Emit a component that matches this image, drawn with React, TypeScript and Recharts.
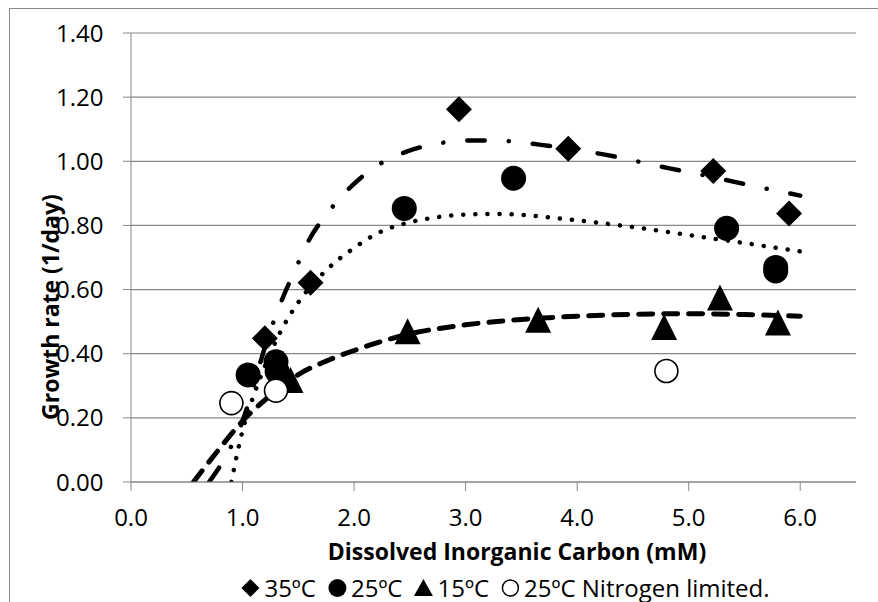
import { ComposedChart, Scatter, Line, XAxis, YAxis, CartesianGrid } from 'recharts';

// measured points, DIC (mM) vs growth rate (1/day)
const temp35 = [
  { x: 1.2, y: 0.448 },
  { x: 1.61, y: 0.621 },
  { x: 2.94, y: 1.162 },
  { x: 3.92, y: 1.039 },
  { x: 5.22, y: 0.97 },
  { x: 5.9, y: 0.837 },
];

const temp25 = [
  { x: 1.05, y: 0.334 },
  { x: 1.3, y: 0.375 },
  { x: 1.31, y: 0.345 },
  { x: 2.45, y: 0.853 },
  { x: 3.43, y: 0.947 },
  { x: 5.34, y: 0.791 },
  { x: 5.78, y: 0.669 },
  { x: 5.78, y: 0.658 },
];

const temp15 = [
  { x: 1.43, y: 0.318 },
  { x: 2.48, y: 0.47 },
  { x: 3.65, y: 0.506 },
  { x: 4.78, y: 0.483 },
  { x: 5.28, y: 0.575 },
  { x: 5.8, y: 0.497 },
];

const temp25N = [
  { x: 0.9, y: 0.246 },
  { x: 1.3, y: 0.285 },
  { x: 4.8, y: 0.346 },
];

// trendlines
const trend35 = [
  { x: 0.7, y: 0 },
  { x: 0.85, y: 0.08 },
  { x: 1.0, y: 0.19 },
  { x: 1.1, y: 0.3 },
  { x: 1.2, y: 0.42 },
  { x: 1.35, y: 0.565 },
  { x: 1.47, y: 0.66 },
  { x: 1.6, y: 0.757 },
  { x: 1.77, y: 0.842 },
  { x: 1.97, y: 0.92 },
  { x: 2.2, y: 0.985 },
  { x: 2.47, y: 1.03 },
  { x: 2.76, y: 1.056 },
  { x: 3.06, y: 1.065 },
  { x: 3.36, y: 1.063 },
  { x: 3.66, y: 1.052 },
  { x: 4.0, y: 1.035 },
  { x: 4.26, y: 1.02 },
  { x: 4.55, y: 0.999 },
  { x: 4.84, y: 0.977 },
  { x: 5.13, y: 0.957 },
  { x: 5.42, y: 0.935 },
  { x: 5.72, y: 0.913 },
  { x: 6.0, y: 0.893 },
];

const trend25 = [
  { x: 0.9, y: 0 },
  { x: 0.95, y: 0.085 },
  { x: 1.0, y: 0.16 },
  { x: 1.1, y: 0.27 },
  { x: 1.2, y: 0.36 },
  { x: 1.35, y: 0.475 },
  { x: 1.5, y: 0.56 },
  { x: 1.75, y: 0.66 },
  { x: 2.0, y: 0.73 },
  { x: 2.25, y: 0.782 },
  { x: 2.5, y: 0.81 },
  { x: 2.75, y: 0.826 },
  { x: 3.0, y: 0.834 },
  { x: 3.25, y: 0.836 },
  { x: 3.5, y: 0.833 },
  { x: 3.75, y: 0.825 },
  { x: 4.0, y: 0.816 },
  { x: 4.5, y: 0.795 },
  { x: 5.0, y: 0.77 },
  { x: 5.5, y: 0.745 },
  { x: 6.0, y: 0.719 },
];

const trend15 = [
  { x: 0.56, y: 0 },
  { x: 0.75, y: 0.085 },
  { x: 1.0, y: 0.19 },
  { x: 1.25, y: 0.27 },
  { x: 1.5, y: 0.335 },
  { x: 1.75, y: 0.377 },
  { x: 2.0, y: 0.41 },
  { x: 2.5, y: 0.462 },
  { x: 3.0, y: 0.49 },
  { x: 3.5, y: 0.507 },
  { x: 4.0, y: 0.517 },
  { x: 4.5, y: 0.523 },
  { x: 5.0, y: 0.525 },
  { x: 5.5, y: 0.522 },
  { x: 6.0, y: 0.517 },
];

const xTicks = [0, 1, 2, 3, 4, 5, 6];
const yTicks = [0, 0.2, 0.4, 0.6, 0.8, 1.0, 1.2, 1.4];

const legendNames = ['35ºC', '25ºC', '15ºC', '25ºC Nitrogen limited.'];

const FONT = '"Open Sans", Lato, sans-serif';
const GRAY = '#888888';

const Diamond = (p: any) => (
  <polygon
    points={`${p.cx},${p.cy - 13} ${p.cx + 13},${p.cy} ${p.cx},${p.cy + 13} ${p.cx - 13},${p.cy}`}
    fill="#000"
  />
);
const Dot = (p: any) => <circle cx={p.cx} cy={p.cy} r={12.5} fill="#000" />;
const Tri = (p: any) => (
  <polygon
    points={`${p.cx},${p.cy - 13} ${p.cx + 13},${p.cy + 13} ${p.cx - 13},${p.cy + 13}`}
    fill="#000"
  />
);
const Ring = (p: any) => (
  <circle cx={p.cx} cy={p.cy} r={11.5} fill="#fff" stroke="#000" strokeWidth={1.6} />
);

// small legend glyphs, 20x20 box
const legendIcons = [
  <polygon points="10,1 19,10 10,19 1,10" fill="#000" />,
  <circle cx={10} cy={10} r={9} fill="#000" />,
  <polygon points="10,1 19.5,18 0.5,18" fill="#000" />,
  <circle cx={10} cy={10} r={8} fill="#fff" stroke="#000" strokeWidth={1.5} />,
];

export default function App() {
  return (
    <div style={{ position: 'relative', width: 878, height: 602, overflow: 'hidden', background: '#fff' }}>
      <style>{`body{margin:0}`}</style>
      <div
        style={{
          position: 'absolute',
          left: 9,
          top: 8,
          width: 900,
          height: 700,
          border: '1px solid #8a8a8a',
          boxSizing: 'border-box',
        }}
      />
      <div style={{ position: 'absolute', left: 0, top: 0 }}>
        <ComposedChart width={878} height={602} margin={{ top: 33, right: 22, bottom: 70, left: 0 }}>
          <CartesianGrid horizontal vertical={false} stroke={GRAY} strokeWidth={1.2} />
          <XAxis
            type="number"
            dataKey="x"
            domain={[0, 6.5]}
            ticks={xTicks}
            tickFormatter={(v: number) => v.toFixed(1)}
            allowDataOverflow
            height={50}
            tickSize={9}
            tickMargin={18}
            stroke={GRAY}
            tick={{ fill: '#000', fontSize: 24, fontFamily: FONT }}
          />
          <YAxis
            type="number"
            dataKey="y"
            domain={[0, 1.4]}
            ticks={yTicks}
            tickFormatter={(v: number) => v.toFixed(2)}
            allowDataOverflow
            width={131}
            tickSize={8}
            tickMargin={19.5}
            stroke={GRAY}
            tick={{ fill: '#000', fontSize: 24, fontFamily: FONT }}
          />
          <Scatter data={temp35} dataKey="y" shape={Diamond} isAnimationActive={false} />
          <Scatter data={temp25} dataKey="y" shape={Dot} isAnimationActive={false} />
          <Scatter data={temp15} dataKey="y" shape={Tri} isAnimationActive={false} />
          <Scatter data={temp25N} dataKey="y" shape={Ring} isAnimationActive={false} />
          <Line
            data={trend35}
            dataKey="y"
            type="monotone"
            stroke="#000"
            strokeWidth={4.5}
            strokeDasharray="17.5 24 0.1 24"
            strokeLinecap="round"
            dot={false}
            activeDot={false}
            isAnimationActive={false}
          />
          <Line
            data={trend25}
            dataKey="y"
            type="monotone"
            stroke="#000"
            strokeWidth={4.5}
            strokeDasharray="0.1 12"
            strokeLinecap="round"
            dot={false}
            activeDot={false}
            isAnimationActive={false}
          />
          <Line
            data={trend15}
            dataKey="y"
            type="monotone"
            stroke="#000"
            strokeWidth={5}
            strokeDasharray="14 11"
            strokeLinecap="round"
            dot={false}
            activeDot={false}
            isAnimationActive={false}
          />
        </ComposedChart>
      </div>
      <div
        style={{
          position: 'absolute',
          left: 50,
          top: 307,
          transform: 'translate(-50%, -50%) rotate(-90deg)',
          whiteSpace: 'nowrap',
          fontFamily: FONT,
          fontWeight: 700,
          fontSize: 23,
          color: '#000',
        }}
      >
        Growth rate (1/day)
      </div>
      <div
        style={{
          position: 'absolute',
          left: 517,
          top: 551,
          transform: 'translate(-50%, -50%)',
          whiteSpace: 'nowrap',
          fontFamily: FONT,
          fontWeight: 700,
          fontSize: 23,
          color: '#000',
        }}
      >
        Dissolved Inorganic Carbon (mM)
      </div>
      <div
        style={{
          position: 'absolute',
          left: 505,
          top: 588,
          transform: 'translate(-50%, -50%)',
          display: 'flex',
          alignItems: 'center',
          whiteSpace: 'nowrap',
          fontFamily: FONT,
          fontSize: 24,
          lineHeight: '24px',
          color: '#000',
        }}
      >
        {legendNames.map((name, i) => (
          <span key={i} style={{ display: 'flex', alignItems: 'center', marginLeft: i === 0 ? 0 : 11 }}>
            <svg width={20} height={20} style={{ marginRight: 4 }}>
              {legendIcons[i]}
            </svg>
            {name}
          </span>
        ))}
      </div>
    </div>
  );
}
